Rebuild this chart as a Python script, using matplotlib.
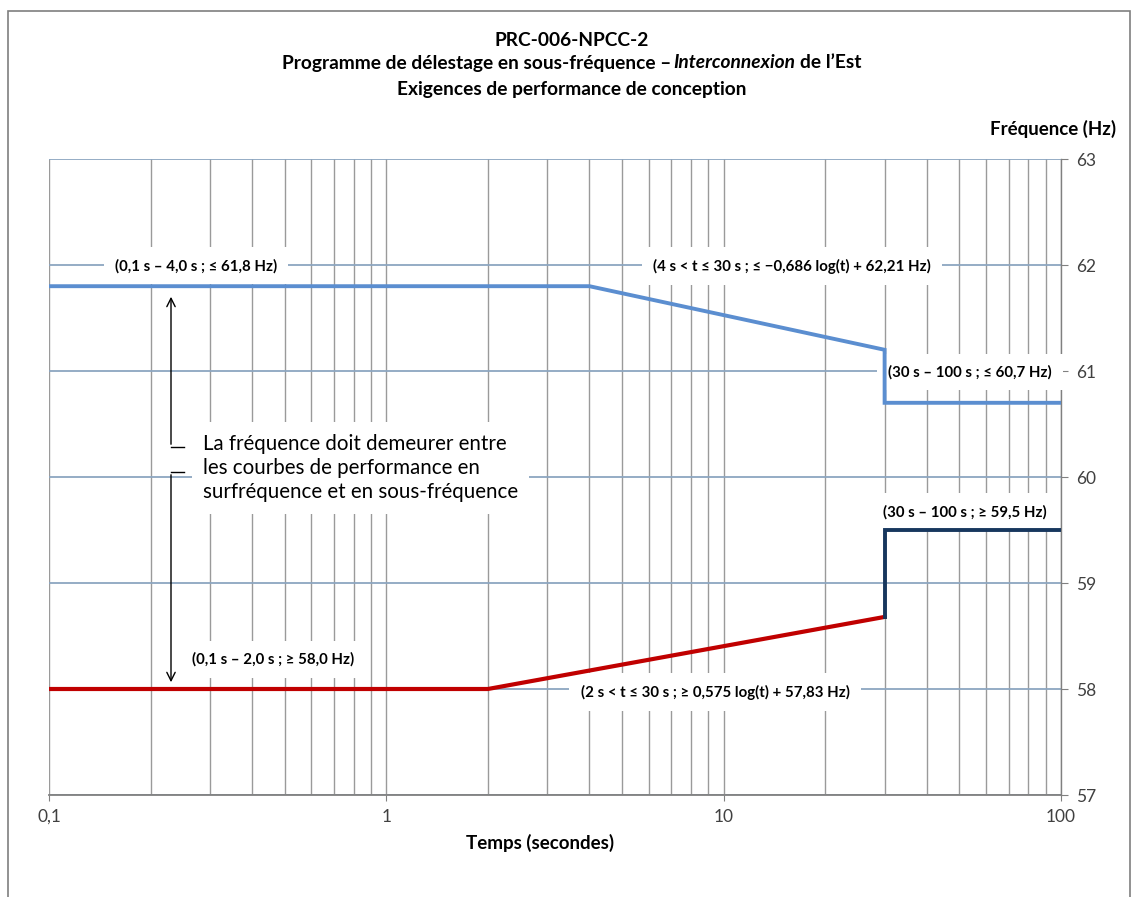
import matplotlib
matplotlib.use("Agg")
import matplotlib.pyplot as plt
from matplotlib.patches import Rectangle
from matplotlib.ticker import FixedLocator, NullFormatter

# ---------------- data ----------------
over_t = [0.1, 4.0, 30.0, 30.0, 100.0]
over_f = [61.8, 61.8, 61.2, 60.7, 60.7]
under_t = [0.1, 2.0, 30.0]
under_f = [58.0, 58.0, 58.68]
step_t = [30.0, 30.0, 100.0]
step_f = [58.68, 59.5, 59.5]

x_ticks = [0.1, 1, 10, 100]
x_ticklabels = ["0,1", "1", "10", "100"]
y_ticks = [57, 58, 59, 60, 61, 62, 63]
y_ticklabels = ["57", "58", "59", "60", "61", "62", "63"]

title_line1 = "PRC-006-NPCC-2"
title_line2 = [("Programme de délestage en sous-fréquence –", "normal"),
               ("Interconnexion", "italic"),
               ("de l’Est", "normal")]
title_line3 = "Exigences de performance de conception"
ylabel = "Fréquence (Hz)"
xlabel = "Temps (secondes)"

labels = [
    ("(0,1 s – 4,0 s ; ≤ 61,8 Hz)", 0.1453, 0.8318),
    ("(4 s < t ≤ 30 s ; ≤ −0,686 log(t) + 62,21 Hz)", 0.7342, 0.8318),
    ("(30 s – 100 s ; ≤ 60,7 Hz)", 0.9101, 0.6651),
    ("(30 s – 100 s ; ≥ 59,5 Hz)", 0.9051, 0.4450),
    ("(0,1 s – 2,0 s ; ≥ 58,0 Hz)", 0.2213, 0.2138),
    ("(2 s < t ≤ 30 s ; ≥ 0,575 log(t) + 57,83 Hz)", 0.6581, 0.1619),
]
note = "La fréquence doit demeurer entre\nles courbes de performance en\nsurfréquence et en sous-fréquence"

FONT = ["Lato", "DejaVu Sans"]
plt.rcParams["font.family"] = FONT

W, H = 1132, 897
fig = plt.figure(figsize=(W / 100, H / 100), dpi=100)
fig.patch.set_facecolor("white")

# outer frame
fig.patches.append(Rectangle((8 / W, -0.01), (1130 - 8) / W, (H - 11) / H + 0.01,
                             transform=fig.transFigure, fill=False,
                             edgecolor="#7f7f7f", linewidth=1.2))

ax = fig.add_axes([49 / W, (H - 795) / H, (1061 - 49) / W, (795 - 159) / H])
ax.set_xscale("log")
ax.set_xlim(0.1, 100)
ax.set_ylim(57, 63)

# grid lines
minor = []
for dec in [0.1, 1, 10]:
    for k in range(1, 10):
        minor.append(dec * k)
for xv in minor + [100]:
    ax.axvline(xv, color="#9a9a9a", linewidth=1.0, zorder=0)
for yv in y_ticks:
    ax.axhline(yv, color="#8ca6c0", linewidth=1.3, zorder=0)

ax.plot(over_t, over_f, color="#5b8ed0", linewidth=2.8, solid_joinstyle="miter", zorder=7)
ax.plot(under_t, under_f, color="#c00000", linewidth=3.0, solid_joinstyle="miter", zorder=7)
ax.plot(step_t, step_f, color="#17375e", linewidth=2.8, solid_joinstyle="miter", zorder=7)

for s in ["top", "left"]:
    ax.spines[s].set_visible(False)
ax.spines["bottom"].set_color("#808080")
ax.spines["right"].set_color("#808080")
ax.spines["bottom"].set_linewidth(1.3)
ax.spines["right"].set_linewidth(1.0)

ax.xaxis.set_major_locator(FixedLocator(x_ticks))
ax.set_xticklabels(x_ticklabels)
ax.xaxis.set_minor_locator(FixedLocator(minor))
ax.xaxis.set_minor_formatter(NullFormatter())
ax.tick_params(axis="x", which="major", direction="out", length=4, color="#808080",
               labelsize=12.5, labelcolor="#404040", pad=6)
ax.tick_params(axis="x", which="minor", length=0)
ax.yaxis.tick_right()
ax.set_yticks(y_ticks)
ax.set_yticklabels(y_ticklabels)
ax.tick_params(axis="y", direction="out", length=5, color="#808080",
               labelsize=12.5, labelcolor="#404040", pad=6)

# labels with white boxes
for txt, xf, yf in labels:
    ax.text(xf, yf, txt, transform=ax.transAxes, ha="center", va="center",
            fontsize=10.8, fontweight="bold", color="black", zorder=5,
            bbox=dict(boxstyle="square,pad=0.75", facecolor="white", edgecolor="none"))

ax.text(0.1522, 0.5142, note, transform=ax.transAxes, ha="left", va="center",
        fontsize=14.8, color="black", linespacing=1.27, zorder=5,
        bbox=dict(boxstyle="square,pad=0.55", facecolor="white", edgecolor="none"))

# arrows (axes-fraction coordinates)
def pxa(x, y):
    return ((x - 49) / 1012, (795 - y) / 636)

ax.annotate("", xy=pxa(171, 294), xytext=pxa(171, 447), xycoords="axes fraction",
            arrowprops=dict(arrowstyle="->,head_length=0.6,head_width=0.3", color="black", lw=1.0),
            zorder=6)
ax.plot(*zip(pxa(171, 447), pxa(184, 447)), transform=ax.transAxes, color="black", lw=1.0, zorder=6)
ax.annotate("", xy=pxa(171, 685), xytext=pxa(171, 472), xycoords="axes fraction",
            arrowprops=dict(arrowstyle="->,head_length=0.6,head_width=0.3", color="black", lw=1.0),
            zorder=6)
ax.plot(*zip(pxa(171, 472), pxa(184, 472)), transform=ax.transAxes, color="black", lw=1.0, zorder=6)

# titles
TFS = 13.8
cx = 572 / W
fig.text(cx, 1 - 40 / H, title_line1, ha="center", va="center", fontsize=TFS, fontweight="bold")
fig.text(cx, 1 - 89 / H, title_line3, ha="center", va="center", fontsize=TFS, fontweight="bold")

fig.canvas.draw()
r = fig.canvas.get_renderer()
probe1 = fig.text(0, 0, "a a", fontsize=TFS, fontweight="bold")
probe2 = fig.text(0, 0, "aa", fontsize=TFS, fontweight="bold")
space_w = probe1.get_window_extent(r).width - probe2.get_window_extent(r).width
probe1.remove()
probe2.remove()
parts = []
for s, st in title_line2:
    t = fig.text(0, 1 - 63 / H, s, ha="left", va="center", fontsize=TFS, fontweight="bold", style=st)
    parts.append(t)
widths = [t.get_window_extent(r).width for t in parts]
gaps = [space_w * 0.45, space_w, 0]
total = sum(widths) + sum(gaps[:-1])
x0 = 572 - total / 2
for t, w, g in zip(parts, widths, gaps):
    t.set_x(x0 / W)
    x0 += w + g

fig.text(1116 / W, 1 - 129 / H, ylabel, ha="right", va="center", fontsize=13.5, fontweight="bold")
fig.text(540 / W, 1 - 843 / H, xlabel, ha="center", va="center", fontsize=13.5, fontweight="bold")

fig.savefig("out.png", dpi=100)
